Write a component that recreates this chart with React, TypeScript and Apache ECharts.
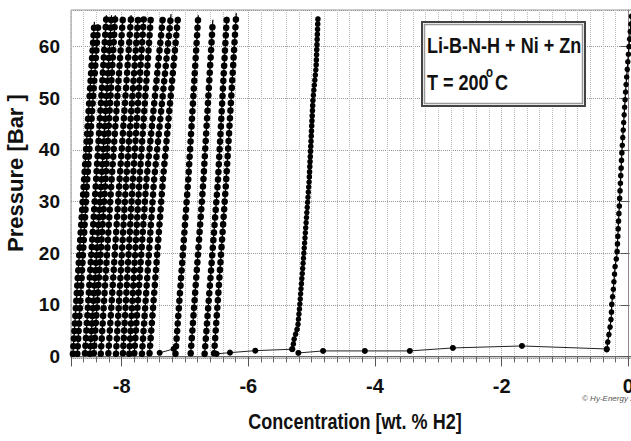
import React, { useEffect, useRef } from "react";
import * as echarts from "echarts";

// ---- Data (x = concentration wt.% H2, y = pressure bar) ----
const cycle01 = [[-8.77, 0.5], [-8.6, 33], [-8.43, 64.8]];
const cycle02 = [[-8.7, 0.5], [-8.55, 33], [-8.37, 64.3]];
const cycle03 = [[-8.58, 0.6], [-8.41, 33], [-8.24, 66.1]];
const cycle04 = [[-8.5, 0.5], [-8.33, 32], [-8.16, 66.1]];
const cycle05 = [[-8.44, 0.6], [-8.26, 33], [-8.1, 66.1]];
const cycle06 = [[-8.33, 0.5], [-8.16, 34], [-7.98, 65.8]];
const cycle07 = [[-8.21, 0.6], [-8.04, 33], [-7.85, 66.1]];
const cycle08 = [[-8.09, 0.5], [-7.93, 34], [-7.74, 65.6]];
const cycle09 = [[-7.98, 0.6], [-7.83, 33], [-7.65, 65.6]];
const cycle10 = [[-7.88, 0.5], [-7.72, 34], [-7.54, 65.6]];
const cycle11 = [[-7.8, 0.6], [-7.61, 34], [-7.35, 65.6]];
const cycle12 = [[-7.68, 0.5], [-7.49, 34], [-7.22, 66.3]];
const cycle13 = [[-7.56, 0.6], [-7.35, 34], [-7.11, 65.8]];
const cycle14 = [[-7.15, 0.5], [-6.95, 34], [-6.79, 66.1]];
const cycle15 = [[-6.91, 0.6], [-6.71, 34], [-6.56, 65.2]];
const cycle16 = [[-6.69, 0.5], [-6.48, 34], [-6.34, 65.8]];
const cycle17 = [[-6.54, 0.6], [-6.35, 34], [-6.19, 66.5]];
const cycle18 = [
  [-5.3, 1.4], [-5.28, 3.2], [-5.22, 5.7], [-5.19, 9.5], [-5.17, 12.9],
  [-5.14, 17.3], [-5.12, 20.6], [-5.04, 34], [-4.98, 49.7], [-4.93, 56], [-4.9, 65.8],
];
const cycle19 = [
  [-0.34, 1.3], [-0.32, 3.2], [-0.29, 5.5], [-0.27, 7.6], [-0.26, 10.4], [-0.24, 12.5],
  [-0.21, 17.3], [-0.18, 19.7], [-0.1, 40], [-0.04, 52], [0.01, 60], [0.05, 66],
];
const lowStepA = [[-6.5, 0.5], [-6.29, 0.74], [-5.89, 1.12], [-5.31, 1.4]];
const lowStepB = [[-5.21, 0.68], [-4.82, 1.07], [-4.16, 1.07], [-3.45, 1.07], [-2.77, 1.65], [-1.68, 2.03], [-0.34, 1.45]];
const lowStepC = [[-7.4, 0.7], [-7.18, 1.45]];

const cycles = [
  cycle01, cycle02, cycle03, cycle04, cycle05, cycle06, cycle07, cycle08, cycle09,
  cycle10, cycle11, cycle12, cycle13, cycle14, cycle15, cycle16, cycle17, cycle18, cycle19,
];
const lowSteps = [lowStepA, lowStepB, lowStepC];

const xRange = [-8.8, 0.5];
const yRange = [-0.3, 67.1];
const xTitle = "Concentration [wt. % H2]";
const yTitle = "Pressure [Bar ]";
const boxLine1 = "Li-B-N-H + Ni + Zn";
const boxLine2 = "T = 200";
const copyright = "© Hy-Energy 2008";

const SANS = '"Liberation Sans", Arial, sans-serif';
const NARROW_SCALE = 0.82;

export default function App() {
  const ref = useRef<HTMLDivElement>(null);
  useEffect(() => {
    if (!ref.current) return;
    const chart = echarts.init(ref.current, undefined, { renderer: "svg" });
    const series: any[] = [];
    cycles.forEach((d, i) => {
      series.push({
        type: "line",
        data: d,
        symbol: "none",
        silent: true,
        lineStyle: { color: "#000", width: 1.2 },
        z: 3,
      });
      series.push({
        type: "line",
        data: d,
        symbol: "none",
        silent: true,
        lineStyle: {
          color: "#000",
          width: i >= 17 ? 5.5 : 6.5,
          type: i === 17 ? [0.1, 5] : [0.1, 7.5],
          cap: "round",
        },
        z: 4,
      });
    });
    lowSteps.forEach((d) => {
      series.push({
        type: "line",
        data: d,
        symbol: "circle",
        symbolSize: 6,
        showSymbol: true,
        silent: true,
        itemStyle: { color: "#000" },
        lineStyle: { color: "#222", width: 1 },
        z: 4,
      });
    });

    const narrowText = (text: string, x: number, y: number, size: number, align: string, extra: any = {}) => ({
      type: "text",
      x,
      y,
      scaleX: NARROW_SCALE,
      z: 102,
      ...extra,
      style: {
        text,
        font: `bold ${size}px ${SANS}`,
        fill: "#111",
        textAlign: align,
        textVerticalAlign: "middle",
      },
    });

    chart.setOption({
      animation: false,
      backgroundColor: "#fff",
      grid: {
        left: 71,
        top: 10,
        right: 40,
        bottom: 83,
        show: true,
        borderColor: "#999",
        borderWidth: 1,
      },
      xAxis: {
        type: "value",
        min: xRange[0],
        max: xRange[1],
        axisLine: { show: true, lineStyle: { color: "#666", width: 1 } },
        axisTick: { show: true, length: 10, lineStyle: { color: "#555" } },
        minorTick: { show: true, splitNumber: 10, length: 6, lineStyle: { color: "#666" } },
        axisLabel: {
          showMinLabel: false,
          showMaxLabel: false,
          margin: 18,
          fontFamily: SANS,
          fontWeight: "bold",
          fontSize: 20,
          color: "#111",
        },
        splitLine: { show: true, lineStyle: { color: "#aaa", type: "dotted", width: 1 } },
        minorSplitLine: { show: true, lineStyle: { color: "#bbb", type: "dotted", width: 1 } },
      },
      yAxis: {
        type: "value",
        min: yRange[0],
        max: yRange[1],
        axisLine: { show: true, lineStyle: { color: "#888", width: 1 } },
        axisTick: { show: true, length: 8, lineStyle: { color: "#555" } },
        axisLabel: {
          showMinLabel: false,
          showMaxLabel: false,
          margin: 11,
          fontFamily: SANS,
          fontWeight: "bold",
          fontSize: 19,
          color: "#111",
        },
        splitLine: { show: true, lineStyle: { color: "#999", type: "dotted", width: 1 } },
      },
      graphic: [
        {
          type: "text",
          x: 15,
          y: 173,
          rotation: Math.PI / 2,
          z: 100,
          style: {
            text: yTitle,
            font: `bold 22px ${SANS}`,
            fill: "#111",
            textAlign: "center",
            textVerticalAlign: "middle",
          },
        },
        narrowText(xTitle, 355, 421, 22, "center"),
        {
          type: "rect",
          z: 100,
          shape: { x: 422, y: 22, width: 163, height: 84 },
          style: { fill: "#fff", stroke: "#444", lineWidth: 2 },
        },
        {
          type: "rect",
          z: 101,
          shape: { x: 424.5, y: 24.5, width: 158, height: 79 },
          style: { fill: "none", stroke: "#999", lineWidth: 1.5 },
        },
        narrowText(boxLine1, 427, 45, 22, "left"),
        narrowText(boxLine2, 427, 82, 22, "left"),
        narrowText("o", 486, 72, 14, "left"),
        narrowText("C", 495, 82, 22, "left"),
        {
          type: "text",
          x: 582,
          y: 398,
          z: 102,
          style: {
            text: copyright,
            font: `italic 8px ${SANS}`,
            fill: "#555",
            textAlign: "left",
            textVerticalAlign: "middle",
          },
        },
      ],
      series,
    });
    return () => chart.dispose();
  }, []);

  return (
    <div
      style={{
        position: "fixed",
        left: 0,
        top: 0,
        width: 631,
        height: 441,
        overflow: "hidden",
        background: "#fff",
      }}
    >
      <div ref={ref} style={{ width: 700, height: 441 }} />
    </div>
  );
}
